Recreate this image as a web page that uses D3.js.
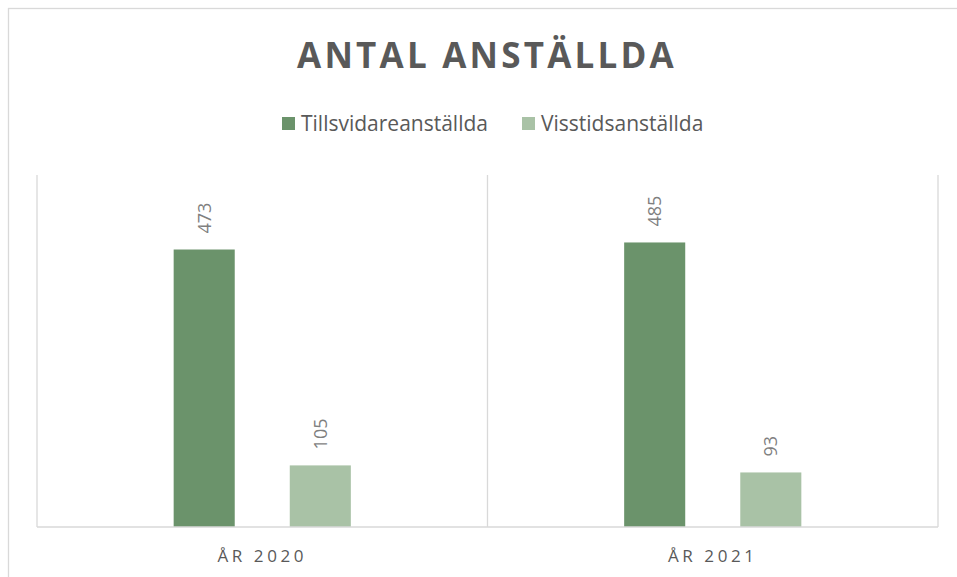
<!DOCTYPE html>
<html>
<head>
<meta charset="utf-8">
<script src="https://cdn.jsdelivr.net/npm/d3@7"></script>
<style>
  html, body { margin: 0; padding: 0; background: #fff; }
  svg { display: block; }
  text { font-family: "Open Sans", "Noto Sans", sans-serif; }
</style>
</head>
<body>
<svg id="chart" width="957" height="577"></svg>
<script>
const title = "ANTAL ANSTÄLLDA";
const categories = ["ÅR 2020", "ÅR 2021"];
const seriesNames = ["Tillsvidareanställda", "Visstidsanställda"];
const tillsvidare = [473, 485];
const visstid = [105, 93];
const seriesColors = ["#6b936b", "#a9c2a6"];
const yDomain = [0, 600];

const seriesValues = [tillsvidare, visstid];
const data = categories.map((c, i) => ({
  category: c,
  values: seriesNames.map((s, j) => ({ series: s, value: seriesValues[j][i], color: seriesColors[j] }))
}));

const svg = d3.select("#chart");
const plot = { left: 37, right: 938, top: 175, bottom: 527 };

// outer chart border
svg.append("rect")
  .attr("x", 8.5).attr("y", 8.5)
  .attr("width", 980).attr("height", 620)
  .attr("fill", "#fff").attr("stroke", "#d9d9d9").attr("stroke-width", 1.3);

// title
svg.append("text")
  .attr("x", 487).attr("y", 68)
  .attr("text-anchor", "middle")
  .attr("font-size", 35).attr("font-weight", 700)
  .attr("letter-spacing", 3.2)
  .attr("fill", "#595959")
  .text(title);

// legend
const legendItems = [
  { name: seriesNames[0], color: seriesColors[0], x: 282 },
  { name: seriesNames[1], color: seriesColors[1], x: 522 }
];
const lg = svg.append("g");
legendItems.forEach(d => {
  lg.append("rect").attr("x", d.x).attr("y", 117).attr("width", 13).attr("height", 13).attr("fill", d.color);
  lg.append("text").attr("x", d.x + 19).attr("y", 131)
    .attr("font-size", 21).attr("fill", "#595959").text(d.name);
});

const x = d3.scaleBand().domain(categories).range([plot.left, plot.right]).padding(0);
const xInner = d3.scaleBand().domain(seriesNames).range([0, x.bandwidth()])
  .paddingInner(0.474).paddingOuter(1.177);
const y = d3.scaleLinear().domain(yDomain).range([plot.bottom, plot.top]);

// vertical category separators
const seps = [plot.left, ...categories.map(c => x(c) + x.bandwidth())];
svg.append("g").selectAll("line").data(seps).join("line")
  .attr("x1", d => d).attr("x2", d => d)
  .attr("y1", plot.top).attr("y2", plot.bottom)
  .attr("stroke", "#d9d9d9").attr("stroke-width", 1.3);

// bars
const groups = svg.append("g").selectAll("g").data(data).join("g")
  .attr("transform", d => `translate(${x(d.category)},0)`);
groups.selectAll("rect").data(d => d.values).join("rect")
  .attr("x", d => xInner(d.series))
  .attr("y", d => y(d.value))
  .attr("width", xInner.bandwidth())
  .attr("height", d => y(0) - y(d.value))
  .attr("fill", d => d.color);

// data labels
groups.selectAll("text").data(d => d.values).join("text")
  .attr("transform", d => `translate(${xInner(d.series) + xInner.bandwidth() / 2 + 6.5},${y(d.value) - 16}) rotate(-90)`)
  .attr("text-anchor", "start")
  .attr("font-size", 18)
  .attr("fill", "#7f7f7f")
  .text(d => d.value);

// x axis
const xAxis = svg.append("g").attr("transform", `translate(0,${plot.bottom})`)
  .call(d3.axisBottom(x).tickSize(0).tickPadding(0));
xAxis.select(".domain").attr("stroke", "#d9d9d9").attr("stroke-width", 1.5)
  .attr("d", `M${plot.left},0H${plot.right}`);
xAxis.selectAll(".tick text")
  .attr("y", 35).attr("dy", 0)
  .attr("font-size", 17).attr("letter-spacing", 3.6)
  .attr("fill", "#595959")
  .style("font-family", "'Open Sans', sans-serif");
</script>
</body>
</html>
